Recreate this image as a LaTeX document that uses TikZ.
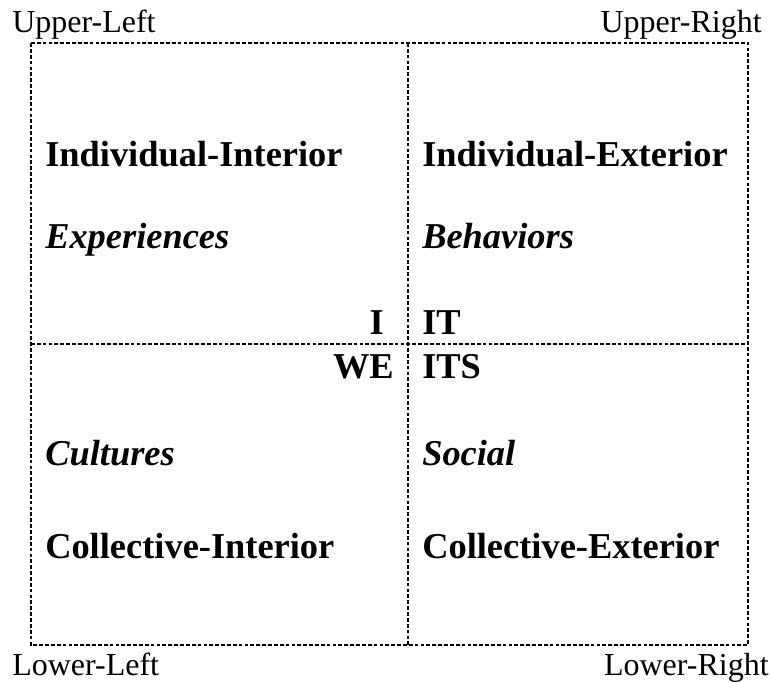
\documentclass[tikz,border=0pt]{standalone}
\usepackage{fontspec}
\setmainfont{Liberation Serif}

\begin{document}
\begin{tikzpicture}[x=0.75pt,y=-0.75pt,
    quad/.style={line width=1.9pt,dash pattern=on 2.8pt off 1.6pt},
    corner/.style={font=\fontsize{24}{26}\selectfont,inner sep=0pt},
    title/.style={font=\fontsize{27.3}{30}\selectfont\bfseries,inner sep=0pt},
    mode/.style={font=\fontsize{27.3}{30}\selectfont\bfseries\itshape,inner sep=0pt}]
    \useasboundingbox (0,0) rectangle (771,682);

    % Define the corners and the middle of the square
    \coordinate (UL) at (31,43);
    \coordinate (UR) at (748,43);
    \coordinate (LL) at (31,645);
    \coordinate (LR) at (748,645);
    \coordinate (T) at (408,43);
    \coordinate (B) at (408,645);
    \coordinate (L) at (31,344);
    \coordinate (R) at (748,344);

    % Draw the outer square and the two dividing lines
    \draw[quad] (UL) -- (UR) -- (LR) -- (LL) -- cycle;
    \draw[quad] (T) -- (B);
    \draw[quad] (L) -- (R);

    % Corner labels
    \node[corner,anchor=base west] (ul) at (12,32) {Upper-Left};
    \node[corner,anchor=base east] (ur) at (762,32) {Upper-Right};
    \node[corner,anchor=base west] (ll) at (12,675) {Lower-Left};
    \node[corner,anchor=base east] (lr) at (769,675) {Lower-Right};

    % Upper quadrants
    \node[title,anchor=base west] (ii) at (45,166) {Individual-Interior};
    \node[mode,anchor=base west] (exp) at (45,248) {Experiences};
    \node[title,anchor=base east] (i) at (384,334) {I};
    \node[title,anchor=base west] (ie) at (422,166) {Individual-Exterior};
    \node[mode,anchor=base west] (beh) at (422,248) {Behaviors};
    \node[title,anchor=base west] (it) at (422,334) {IT};

    % Lower quadrants
    \node[title,anchor=base east] (we) at (394,378) {WE};
    \node[mode,anchor=base west] (cul) at (45,465) {Cultures};
    \node[title,anchor=base west] (ci) at (45,558) {Collective-Interior};
    \node[title,anchor=base west] (its) at (422,378) {ITS};
    \node[mode,anchor=base west] (soc) at (422,465) {Social};
    \node[title,anchor=base west] (ce) at (422,558) {Collective-Exterior};
\end{tikzpicture}
\end{document}
